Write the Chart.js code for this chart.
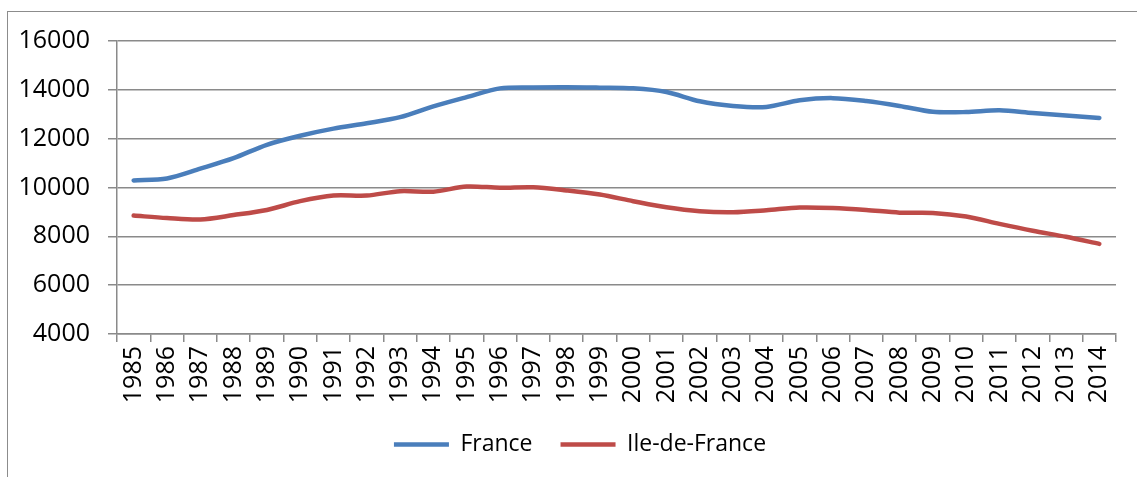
<!DOCTYPE html>
<html>
<head>
<meta charset="utf-8">
<script src="https://cdn.jsdelivr.net/npm/chart.js@4"></script>
<style>
  body{margin:0;background:#fff;overflow:hidden}
  #frame{position:absolute;left:7px;top:11px;width:1200px;height:600px;border:1px solid #8c8c8c}
  #c{position:absolute;left:0;top:0}
</style>
</head>
<body>
<div id="frame"></div>
<canvas id="c" width="1137" height="477"></canvas>
<script>
// categories
const years = ['1985','1986','1987','1988','1989','1990','1991','1992','1993','1994',
               '1995','1996','1997','1998','1999','2000','2001','2002','2003','2004',
               '2005','2006','2007','2008','2009','2010','2011','2012','2013','2014'];

// series
const france = [10290,10370,10770,11200,11750,12120,12410,12630,12880,13320,
                13700,14060,14100,14110,14090,14060,13910,13530,13340,13300,
                13570,13660,13540,13340,13100,13090,13160,13050,12950,12850];
const ileDeFrance = [8850,8750,8690,8870,9080,9440,9670,9670,9850,9830,
                     10040,9990,10010,9880,9710,9440,9190,9030,8990,9070,
                     9180,9160,9080,8970,8960,8810,8510,8230,7980,7690];

// y axis
const yMin = 4000, yMax = 16000, yStep = 2000;

const blue = '#4a7ebb';
const red  = '#be4b48';
const gridColor = '#8a8a8a';
const font = 'Open Sans';

// nudge the legend a little right, like the original
const legendShift = {
  id: 'legendShift',
  afterLayout(chart){ chart.legend.left += 22; chart.legend.right += 22; }
};

new Chart(document.getElementById('c'), {
  type: 'line',
  data: {
    labels: years,
    datasets: [
      {label:'France', data:france, borderColor:blue, backgroundColor:blue,
       borderWidth:4.5, pointRadius:0, tension:0.3, borderCapStyle:'round', pointStyle:'line'},
      {label:'Ile-de-France', data:ileDeFrance, borderColor:red, backgroundColor:red,
       borderWidth:4.5, pointRadius:0, tension:0.3, borderCapStyle:'round', pointStyle:'line'}
    ]
  },
  options: {
    responsive: false,
    animation: false,
    layout: {padding:{top:41, right:21, bottom:11, left:0}},
    scales: {
      x: {
        offset: true,
        grid: {offset:true, drawOnChartArea:false, tickLength:8, color:gridColor, lineWidth:1.5},
        border: {display:true, color:gridColor, width:1.5},
        ticks: {minRotation:90, maxRotation:90, autoSkip:false, padding:4, color:'#000',
                font:{family:font, size:25}},
        afterFit: s => { s.height = 71; }
      },
      y: {
        min: yMin, max: yMax,
        grid: {tickLength:9, color:gridColor, lineWidth:1.5},
        border: {display:true, color:gridColor, width:1.5},
        ticks: {stepSize:yStep, padding:18, color:'#000', font:{family:font, size:25},
                callback: v => String(v)},
        afterFit: s => { s.width = 117; }
      }
    },
    plugins: {
      tooltip: {enabled:false},
      legend: {
        position: 'bottom',
        labels: {usePointStyle:true, pointStyle:'line', pointStyleWidth:55, padding:28,
                 color:'#000', font:{family:font, size:23}}
      }
    }
  },
  plugins: [legendShift]
});
</script>
</body>
</html>
